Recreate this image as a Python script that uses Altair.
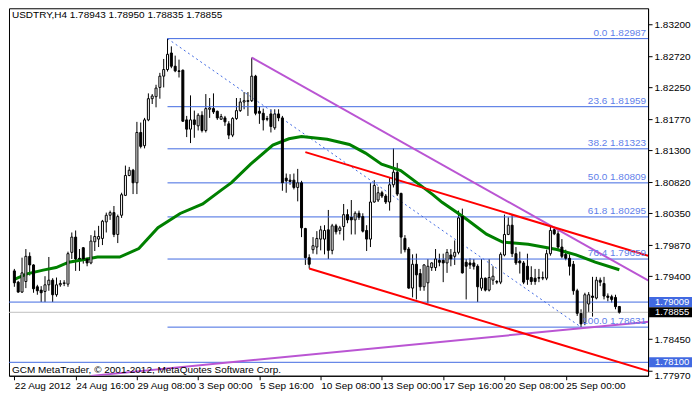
import altair as alt
import pandas as pd

# ---- candles (H4 bars, index 0 = 22 Aug 2012 00:00) ----
opens = [1.7948,1.7931,1.7916,1.7932,1.7970,1.7957,1.7924,1.7919,1.7917,1.7927,
         1.7934,1.7912,1.7927,1.7929,1.7928,1.7976,1.7999,1.7967,1.7983,1.7966,
         1.7960,1.7992,1.7996,1.7997,1.8022,1.8032,1.8036,1.8003,1.8032,1.8062,
         1.8092,1.8100,1.8081,1.8157,1.8137,1.8176,1.8208,1.8211,1.8225,1.8242,
         1.8252,1.8277,1.8257,1.8250,1.8251,1.8176,1.8162,1.8176,1.8167,1.8183,
         1.8160,1.8192,1.8193,1.8189,1.8177,1.8179,1.8170,1.8153,1.8178,1.8190,
         1.8203,1.8205,1.8205,1.8242,1.8189,1.8186,1.8178,1.8185,1.8164,1.8185,
         1.8179,1.8088,1.8085,1.8085,1.8074,1.8081,1.8012,1.7968,1.7980,1.7984,
         1.7996,1.7996,1.8010,1.7979,1.8016,1.8009,1.8015,1.8033,1.8029,1.8025,
         1.8035,1.8030,1.8009,1.7996,1.8052,1.8055,1.8066,1.8061,1.8052,1.8078,
         1.8097,1.8065,1.7997,1.7981,1.7922,1.7958,1.7944,1.7924,1.7930,1.7953,
         1.7953,1.7964,1.7964,1.7960,1.7972,1.7970,1.7976,1.8030,1.7961,1.7960,
         1.7960,1.7955,1.7922,1.7937,1.7919,1.7934,1.7932,1.7931,1.7972,1.8003,
         1.8017,1.7974,1.7963,1.7960,1.7955,1.7938,1.7937,1.7938,1.7937,1.7937,
         1.7974,1.8010,1.8004,1.7984,1.7973,1.7967,1.7958,1.7918,1.7884,1.7870,
         1.7898,1.7910,1.7907,1.7934,1.7929,1.7910,1.7909,1.7908,1.78943]
highs = [1.7951,1.7933,1.7968,1.7981,1.7976,1.7958,1.7927,1.7925,1.7940,1.7969,
         1.7937,1.7938,1.7934,1.7934,1.7977,1.8006,1.8009,1.7981,1.7984,1.7968,
         1.8002,1.8009,1.8016,1.8025,1.8036,1.8039,1.8046,1.8033,1.8066,1.8107,
         1.8105,1.8102,1.8173,1.8172,1.8179,1.8216,1.8215,1.8229,1.8247,1.8268,
         1.82987,1.8287,1.8273,1.8267,1.8252,1.8182,1.8213,1.8190,1.8186,1.8189,
         1.8215,1.8209,1.8216,1.8190,1.8185,1.8182,1.8174,1.8180,1.8209,1.8209,
         1.8218,1.8218,1.8270,1.8244,1.8196,1.8193,1.8182,1.8192,1.8192,1.8192,
         1.8182,1.8095,1.8094,1.8095,1.8102,1.8084,1.8013,1.7973,1.7999,1.8008,
         1.8016,1.8017,1.8040,1.8019,1.8019,1.8016,1.8049,1.8041,1.8055,1.8038,
         1.8039,1.8035,1.8017,1.8081,1.8085,1.8075,1.8069,1.8064,1.8089,1.8133,
         1.8111,1.8066,1.8002,1.7984,1.7973,1.7974,1.7951,1.7958,1.7966,1.7961,
         1.7981,1.7974,1.7974,1.7981,1.7981,1.7994,1.8039,1.8042,1.7966,1.7967,
         1.7966,1.7958,1.7966,1.7938,1.7966,1.7955,1.7934,1.7976,1.8033,1.8029,
         1.8033,1.7984,1.7977,1.7963,1.7974,1.7955,1.7951,1.7951,1.7947,1.7980,
         1.8015,1.8013,1.8009,1.7996,1.7980,1.7973,1.7963,1.7921,1.7890,1.7915,
         1.7916,1.7939,1.7939,1.7938,1.7939,1.7914,1.7912,1.7912,1.78950]
lows = [1.7924,1.7915,1.7915,1.7922,1.7941,1.7915,1.7912,1.7901,1.7901,1.7918,
        1.7901,1.7909,1.7924,1.7925,1.7924,1.7966,1.7948,1.7948,1.7959,1.7955,
        1.7958,1.7978,1.7984,1.7987,1.8006,1.8025,1.7999,1.7990,1.8028,1.8061,
        1.8091,1.8064,1.8064,1.8133,1.8133,1.8174,1.8200,1.8195,1.8208,1.8225,
        1.8249,1.8254,1.8248,1.8240,1.8173,1.8150,1.8141,1.8149,1.8160,1.8157,
        1.8157,1.8179,1.8185,1.8176,1.8176,1.8167,1.8147,1.8150,1.8176,1.8188,
        1.8192,1.8182,1.8203,1.8183,1.8170,1.8160,1.8174,1.8157,1.8161,1.8174,
        1.8069,1.8066,1.8078,1.8071,1.8053,1.7999,1.7957,1.79515,1.7974,1.7973,
        1.7979,1.7973,1.7966,1.7973,1.8003,1.8003,1.7994,1.8020,1.8003,1.8003,
        1.8025,1.8006,1.7978,1.7984,1.8051,1.8052,1.8058,1.8049,1.8039,1.8074,
        1.8061,1.7974,1.7976,1.7921,1.7908,1.7905,1.7918,1.7918,1.7899,1.7948,
        1.7948,1.7955,1.7931,1.7945,1.7955,1.7957,1.7973,1.7944,1.7905,1.7951,
        1.7950,1.7901,1.7918,1.7917,1.7917,1.7927,1.7928,1.7928,1.7970,1.8002,
        1.7969,1.7957,1.7944,1.7928,1.7927,1.7927,1.7927,1.7931,1.7934,1.7934,
        1.7971,1.8002,1.7979,1.7967,1.7964,1.7941,1.7912,1.7880,1.78631,1.7866,
        1.7885,1.7879,1.7905,1.7925,1.7905,1.7902,1.7900,1.7890,1.78835]
closes = [1.7930,1.7916,1.7945,1.7970,1.7957,1.7921,1.7918,1.7915,1.7927,1.7934,
          1.7912,1.7927,1.7929,1.7930,1.7974,1.7999,1.7966,1.7966,1.7966,1.7960,
          1.7993,1.8000,1.8000,1.8023,1.8032,1.8036,1.8003,1.8030,1.8063,1.8092,
          1.8100,1.8081,1.8157,1.8136,1.8176,1.8208,1.8212,1.8224,1.8242,1.8252,
          1.8275,1.8257,1.8250,1.8249,1.8174,1.8162,1.8176,1.8169,1.8183,1.8160,
          1.8193,1.8194,1.8188,1.8179,1.8181,1.8173,1.8153,1.8178,1.8190,1.8203,
          1.8205,1.8204,1.8242,1.8186,1.8186,1.8176,1.8177,1.8166,1.8185,1.8179,
          1.8081,1.8084,1.8083,1.8074,1.8081,1.8013,1.7968,1.7958,1.7986,1.7997,
          1.8010,1.8009,1.7979,1.8016,1.8007,1.8013,1.8033,1.8025,1.8025,1.8035,
          1.8029,1.8008,1.7996,1.8052,1.8077,1.8066,1.8061,1.8052,1.8078,1.8097,
          1.8064,1.7999,1.7980,1.7922,1.7958,1.7942,1.7924,1.7957,1.7955,1.7960,
          1.7966,1.7961,1.7960,1.7976,1.7966,1.7976,1.8028,1.7945,1.7955,1.7957,
          1.7955,1.7924,1.7937,1.7919,1.7938,1.7940,1.7931,1.7973,1.8003,1.8017,
          1.7974,1.7960,1.7960,1.7931,1.7935,1.7932,1.7932,1.7937,1.7938,1.7974,
          1.8009,1.8004,1.7984,1.7970,1.7967,1.7955,1.7918,1.7884,1.7868,1.7912,
          1.7912,1.7908,1.7934,1.7931,1.7910,1.7908,1.7905,1.7894,1.78855]
bars = list(range(len(opens)))

# ---- moving average ----
ma_bars = [0, 3.3, 7.5, 10.9, 14.2, 18.3, 21.7, 27.5, 32.5, 37.5, 43.3, 49.2, 54.2, 56.7,
           61.7, 67.5, 71.7, 75, 81.7, 87.5, 91.7, 95.9, 100.9, 105.9, 109.2, 111.7,
           117.5, 123.3, 127.5, 134.2, 141.7, 146.7, 151.7, 158]
ma_vals = [1.79353, 1.79435, 1.79492, 1.79530, 1.79612, 1.79651, 1.79688, 1.79688, 1.79818,
           1.80131, 1.80347, 1.80491, 1.80707, 1.80812, 1.81092, 1.81380, 1.81475, 1.81510,
           1.81467, 1.81389, 1.81259, 1.81092, 1.80996, 1.80779, 1.80635, 1.80515, 1.80285,
           1.80034, 1.79915, 1.79881, 1.79804, 1.79723, 1.79612, 1.79497]

# ---- axes ----
x_tick_bars = [0, 16, 32, 48, 64, 80, 96, 112, 128, 144]
x_tick_labels = ["22 Aug 2012", "24 Aug 16:00", "29 Aug 08:00", "3 Sep 00:00", "5 Sep 16:00",
                 "10 Sep 08:00", "13 Sep 00:00", "17 Sep 16:00", "20 Sep 08:00", "25 Sep 00:00"]
y_ticks = [1.83200, 1.82720, 1.82250, 1.81770, 1.81300, 1.80820, 1.80350, 1.79870,
           1.79400, 1.78450, 1.77970]

# ---- Fibonacci retracement ----
fib_levels = ["0.0", "23.6", "38.2", "50.0", "61.8", "76.4", "100.0"]
fib_prices = [1.82987, 1.81959, 1.81323, 1.80809, 1.80295, 1.79659, 1.78631]
fib_from_bar, fib_to_bar = 40, 148

# ---- trend lines ----
purple_down_bars, purple_down_prices = [62, 166], [1.82700, 1.79320]
purple_up_bars, purple_up_prices = [20, 166], [1.77895, 1.78715]
red_up_bars, red_up_prices = [76, 166], [1.81273, 1.79700]
red_low_bars, red_low_prices = [77, 166], [1.79515, 1.77960]

# ---- horizontal levels & price boxes ----
hline_prices = [1.79009, 1.78100]
bid_price = 1.78855
box_prices = [1.79009, 1.78855, 1.78100]
box_colors = ["#4169E1", "#000000", "#4169E1"]

header = "USDTRY,H4  1.78943 1.78950 1.78835 1.78855"
footer = "GCM MetaTrader, \u00a9 2001-2012, MetaQuotes Software Corp."

W, H = 640, 368
FONT = "Liberation Sans"
xs = alt.Scale(domain=[-0.1, 164.2], nice=False, zero=False)
ys = alt.Scale(domain=[1.77897, 1.83445], nice=False, zero=False)

candles = pd.DataFrame({"bar": bars, "open": opens, "high": highs, "low": lows, "close": closes})
candles["top"] = candles[["open", "close"]].max(axis=1)
candles["bot"] = candles[["open", "close"]].min(axis=1)
candles["up"] = candles["close"] >= candles["open"]

label_map = "{" + ",".join(f"'{b}':'{t}'" for b, t in zip(x_tick_bars, x_tick_labels)) + "}"
x_axis = alt.Axis(values=x_tick_bars, labelExpr=f"{label_map}[datum.value]", labelAlign="left",
                  tickSize=4, labelPadding=1, domainColor="black", tickColor="black",
                  labelColor="black", labelFont=FONT, labelFontSize=10, grid=False, title=None,
                  labelOverlap=False, labelFlush=False)
y_axis = alt.Axis(orient="right", values=y_ticks, format=".5f", tickSize=4, labelPadding=2,
                  domainColor="black", tickColor="black", labelColor="black", labelFont=FONT,
                  labelFontSize=10, grid=False, title=None, labelOverlap=False, labelFlush=False,
                  labelBaseline={"condition": {"test": "datum.value < 1.780", "value": "top"},
                                 "value": "middle"})


def X(field):
    return alt.X(field, scale=xs, axis=x_axis, title=None)


def Y(field):
    return alt.Y(field, scale=ys, axis=y_axis, title=None)


wicks = alt.Chart(candles).mark_rule(color="black", strokeWidth=1, clip=True).encode(
    x=X("bar:Q"), y=Y("low:Q"), y2="high:Q")

bodies = alt.Chart(candles).mark_bar(size=2, stroke="black", strokeWidth=1, clip=True).encode(
    x=X("bar:Q"), y=Y("bot:Q"), y2="top:Q",
    fill=alt.condition("datum.up", alt.value("white"), alt.value("black")))

ma = alt.Chart(pd.DataFrame({"bar": ma_bars, "v": ma_vals})).mark_line(
    color="#008000", strokeWidth=3, clip=True).encode(x=X("bar:Q"), y=Y("v:Q"))

fib_df = pd.DataFrame({"lvl": fib_levels, "p": fib_prices})
fib_df["start"] = fib_from_bar
fib_df["end"] = 166
fib_df["label"] = [f"{l} {p:.5f}" for l, p in zip(fib_levels, fib_prices)]
fib_lines = alt.Chart(fib_df).mark_rule(color="#4169E1", strokeWidth=1, clip=True).encode(
    x=X("start:Q"), x2="end:Q", y=Y("p:Q"))
fib_text = alt.Chart(fib_df).mark_text(align="right", baseline="bottom", dy=-1, font=FONT,
                                       fontSize=10, color="#5F7FEA").encode(
    x=alt.value(W - 2), y=Y("p:Q"), text="label:N")

fib_trend = alt.Chart(pd.DataFrame({"bar": [fib_from_bar, fib_to_bar],
                                    "p": [fib_prices[0], fib_prices[-1]]})).mark_line(
    color="#4169E1", strokeWidth=1, strokeDash=[2, 3], clip=True).encode(
    x=X("bar:Q"), y=Y("p:Q"))


def seg(bs, ps, color):
    return alt.Chart(pd.DataFrame({"bar": bs, "p": ps})).mark_line(
        color=color, strokeWidth=2, clip=True).encode(x=X("bar:Q"), y=Y("p:Q"))


purple1 = seg(purple_down_bars, purple_down_prices, "#BA55D3")
purple2 = seg(purple_up_bars, purple_up_prices, "#BA55D3")
red1 = seg(red_up_bars, red_up_prices, "#FF0000")
red2 = seg(red_low_bars, red_low_prices, "#FF0000")

hlines = alt.Chart(pd.DataFrame({"p": hline_prices})).mark_rule(color="#4169E1", strokeWidth=1).encode(
    y=Y("p:Q"))
bidline = alt.Chart(pd.DataFrame({"p": [bid_price]})).mark_rule(color="#C0C0C0", strokeWidth=1).encode(
    y=Y("p:Q"))

box_df = pd.DataFrame({"p": box_prices, "c": box_colors})
box_df["label"] = [f"{p:.5f}" for p in box_prices]
boxes = alt.Chart(box_df).transform_calculate(
    p1="datum.p + 0.00075", p2="datum.p - 0.00075").mark_rect().encode(
    x=alt.value(W + 1), x2=alt.value(W + 44),
    y=Y("p1:Q"), y2="p2:Q",
    fill=alt.Color("c:N", scale=None))
box_text = alt.Chart(box_df).mark_text(align="left", baseline="middle", font=FONT, fontSize=9.5,
                                       color="white").encode(
    x=alt.value(W + 7), y=Y("p:Q"), text="label:N")

head = alt.Chart(pd.DataFrame({"t": [header]})).mark_text(
    align="left", baseline="top", font=FONT, fontSize=10, color="black").encode(
    x=alt.value(3), y=alt.value(2), text="t:N")
foot = alt.Chart(pd.DataFrame({"t": [footer]})).mark_text(
    align="left", baseline="bottom", font=FONT, fontSize=10, color="black").encode(
    x=alt.value(3), y=alt.value(H - 1), text="t:N")

chart = alt.layer(
    wicks, hlines, bidline, fib_lines, fib_trend, ma, purple1, purple2, red1, red2,
    bodies, fib_text, boxes, box_text, head, foot
).properties(width=W, height=H, padding=0, background="white").configure_view(
    stroke="black", strokeWidth=1)

chart.save("out.html", embed_options={"renderer": "svg", "actions": False})
